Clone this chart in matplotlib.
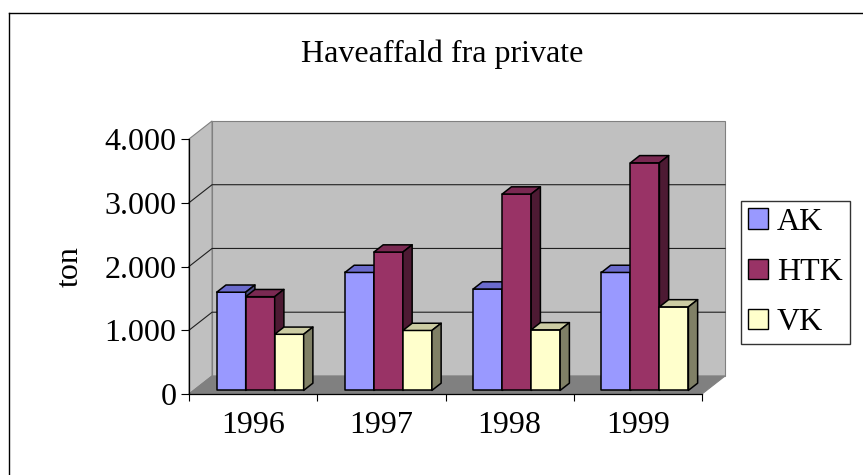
import numpy as np
import matplotlib
matplotlib.use("Agg")
import matplotlib.pyplot as plt
from matplotlib.patches import Polygon, Patch
from matplotlib.lines import Line2D

plt.rcParams['font.family'] = ['Liberation Serif', 'DejaVu Serif']

# data
years = ['1996', '1997', '1998', '1999']
series = ['AK', 'HTK', 'VK']
ak = [1540, 1850, 1590, 1850]
htk = [1470, 2170, 3080, 3570]
vk = [880, 940, 950, 1310]
yticks = [0, 1000, 2000, 3000, 4000]
ytick_labels = ['0', '1.000', '2.000', '3.000', '4.000']

# colours: front, top, side
colors = {
    'AK': ('#9999FF', '#6B6BCC', '#4D4D80'),
    'HTK': ('#993366', '#7A2952', '#4D1A33'),
    'VK': ('#FFFFCC', '#CCCCA3', '#808066'),
}

W, H = 863, 475
fig = plt.figure(figsize=(W / 100, H / 100), dpi=100)

# front plane of the 3d box, in pixels
x0, x1, yb, yt = 189, 702, 394, 139
ax = fig.add_axes([x0 / W, (H - yb) / H, (x1 - x0) / W, (yb - yt) / H])
ax.set_xlim(0, len(years))
ax.set_ylim(0, 4000)

# depth vector (data units) for the oblique projection
DX, DY = 0.18, 283


def proj(x, y, z):
    return (x + z * DX, y + z * DY)


ymax = 4000
n = len(years)
# left wall
ax.add_patch(Polygon([proj(0, 0, 0), proj(0, ymax, 0), proj(0, ymax, 1), proj(0, 0, 1)],
                     closed=True, fc='#C0C0C0', ec='#808080', lw=0.8, clip_on=False, zorder=1))
# back wall
ax.add_patch(Polygon([proj(0, 0, 1), proj(n, 0, 1), proj(n, ymax, 1), proj(0, ymax, 1)],
                     closed=True, fc='#C0C0C0', ec='#808080', lw=0.8, clip_on=False, zorder=1))
# floor
ax.add_patch(Polygon([proj(0, 0, 0), proj(n, 0, 0), proj(n, 0, 1), proj(0, 0, 1)],
                     closed=True, fc='#808080', ec='#808080', lw=0.8, clip_on=False, zorder=1))

# gridlines on back and left walls
for v in yticks[1:-1]:
    p0, p1, p2 = proj(0, v, 0), proj(0, v, 1), proj(n, v, 1)
    ax.plot([p0[0], p1[0], p2[0]], [p0[1], p1[1], p2[1]], color='#202020', lw=0.8,
            clip_on=False, zorder=2)

# bars
OFF, BW, Z0, Z1 = 0.18, 0.226, 0.2, 0.6
values = [ak, htk, vk]
zo = 3
for j in range(n):
    for i, name in enumerate(series):
        v = values[i][j]
        xl = j + OFF + i * BW
        xr = xl + BW
        front, top, side = colors[name]
        faces = [
            ([proj(xl, 0, Z0), proj(xr, 0, Z0), proj(xr, v, Z0), proj(xl, v, Z0)], front),
            ([proj(xl, v, Z0), proj(xr, v, Z0), proj(xr, v, Z1), proj(xl, v, Z1)], top),
            ([proj(xr, 0, Z0), proj(xr, 0, Z1), proj(xr, v, Z1), proj(xr, v, Z0)], side),
        ]
        for pts, c in faces:
            ax.add_patch(Polygon(pts, closed=True, fc=c, ec='black', lw=1.1,
                                 joinstyle='round', clip_on=False, zorder=zo))
            zo += 1

# axes
for s in ['top', 'right']:
    ax.spines[s].set_visible(False)
for s in ['left', 'bottom']:
    ax.spines[s].set_color('black')
    ax.spines[s].set_linewidth(0.9)
    ax.spines[s].set_zorder(100)
ax.set_facecolor('none')
ax.set_yticks(yticks)
ax.set_yticklabels(ytick_labels, fontsize=23)
ax.set_xticks(np.arange(n + 1))
ax.set_xticklabels([])
ax.set_xticks(np.arange(n) + 0.5, minor=True)
ax.set_xticklabels(years, minor=True, fontsize=23)
ax.tick_params(axis='y', direction='out', length=6, width=0.8, pad=3)
ax.tick_params(axis='x', which='major', direction='out', length=5, width=0.8)
ax.tick_params(axis='x', which='minor', length=0, pad=12)
ax.set_ylabel('ton', fontsize=23, labelpad=14)

fig.text(442 / W, (H - 62) / H, 'Haveaffald fra private', fontsize=23,
         ha='center', va='baseline')

handles = [Patch(fc=colors[s][0], ec='black', lw=1.0) for s in series]
fig.legend(handles, series, loc='upper left', bbox_to_anchor=(741 / W, (H - 201) / H),
           fontsize=23, frameon=True, fancybox=False, edgecolor='black',
           handlelength=0.62, handleheight=0.62, handletextpad=0.28,
           labelspacing=0.66, borderpad=0.22, borderaxespad=0)

# outer chart border (left and top visible)
fig.add_artist(Line2D([9 / W, 9 / W], [0, (H - 13) / H], color='black', lw=1.0,
                      transform=fig.transFigure))
fig.add_artist(Line2D([9 / W, 1], [(H - 13) / H, (H - 13) / H], color='black', lw=1.0,
                      transform=fig.transFigure))

fig.savefig('out.png', dpi=100)
